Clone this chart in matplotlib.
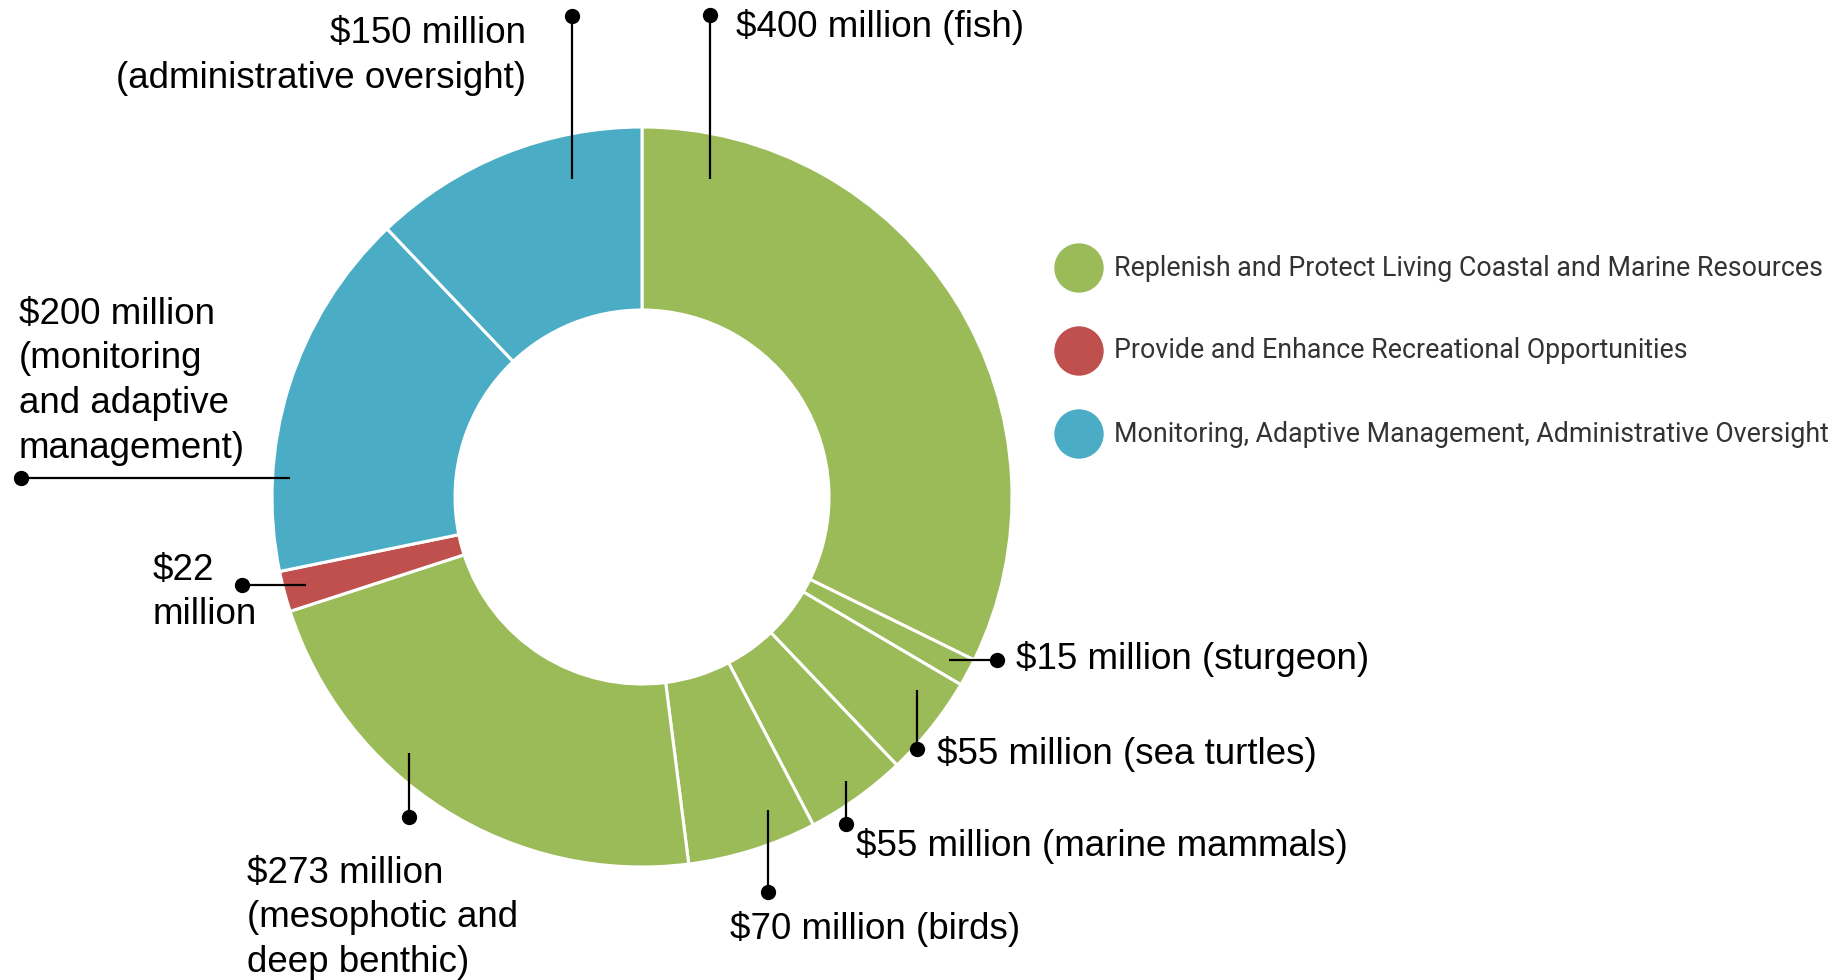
import matplotlib.pyplot as plt

# Budget shares, clockwise from the top
values = [400, 15, 55, 55, 70, 273, 22, 200, 150]
groups = [0, 0, 0, 0, 0, 0, 1, 2, 2]

labels = [
    "$400 million (fish)",
    "$15 million (sturgeon)",
    "$55 million (sea turtles)",
    "$55 million (marine mammals)",
    "$70 million (birds)",
    "$273 million\n(mesophotic and\ndeep benthic)",
    "$22\nmillion",
    "$200 million\n(monitoring\nand adaptive\nmanagement)",
    "$150 million\n(administrative oversight)",
]

legend_labels = [
    "Replenish and Protect Living Coastal and Marine Resources",
    "Provide and Enhance Recreational Opportunities",
    "Monitoring, Adaptive Management, Administrative Oversight",
]
group_colors = ["#9BBB59", "#C0504D", "#4BACC6"]

W, H = 1840, 980

# leader line (x0, y0) -> dot (x1, y1), text anchor (x, y of first line, ha), in pixels from top-left
leaders = [
    ((710, 179), (710, 15), (736, 27, "left")),
    ((949, 660), (997, 660), (1016, 659, "left")),
    ((917, 690), (917, 749), (937, 754, "left")),
    ((846, 781), (846, 824), (856, 846, "left")),
    ((768, 810), (768, 892), (730, 929, "left")),
    ((409, 753), (409, 817), (247, 873, "left")),
    ((306, 585), (242, 585), (153, 570, "left")),
    ((290, 478), (21, 478), (19, 314, "left")),
    ((572, 179), (572, 16), (526, 34, "right")),
]
line_gap = 44.8

fig = plt.figure(figsize=(W / 100, H / 100), dpi=100)
ax = fig.add_axes([0, 0, 1, 1])

ax.pie(
    values,
    colors=[group_colors[g] for g in groups],
    startangle=90,
    counterclock=False,
    center=(642, H - 497),
    radius=370,
    wedgeprops=dict(width=183, edgecolor="white", linewidth=2.2),
)

for (p0, p1, (tx, ty, ha)), lab in zip(leaders, labels):
    ax.plot([p0[0], p1[0]], [H - p0[1], H - p1[1]], color="black", lw=1.6,
            solid_capstyle="butt", zorder=3)
    ax.plot(p1[0], H - p1[1], "o", color="black", markersize=10, zorder=4)
    for i, line in enumerate(lab.split("\n")):
        ax.text(tx, H - (ty + i * line_gap), line, ha=ha, va="center",
                fontsize=26.5, family="Liberation Sans", color="black")

# legend
for i, (lab, col) in enumerate(zip(legend_labels, group_colors)):
    y = H - (268 + i * 83)
    ax.add_patch(plt.Circle((1079, y), 24, color=col, zorder=3))
    ax.text(1114, y, lab, ha="left", va="center", fontsize=19.3,
            family="Roboto", color="#333333")

ax.set_xlim(0, W)
ax.set_ylim(0, H)
ax.set_aspect("auto")
ax.axis("off")

fig.savefig("out.png", dpi=100, facecolor="white")
